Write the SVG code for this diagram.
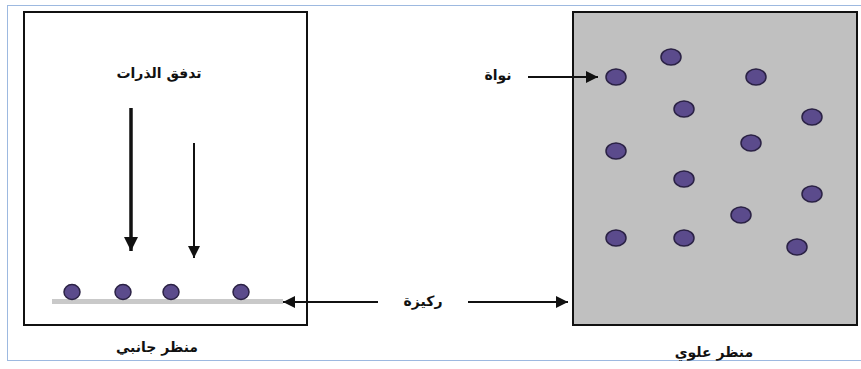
<svg xmlns="http://www.w3.org/2000/svg" width="861" height="369" viewBox="0 0 861 369">
<style>
.lbl{font-family:"DejaVu Sans","Noto Sans",sans-serif;font-weight:bold;font-size:14px;fill:#111;text-anchor:middle}
.dot{fill:#5b4b8c;stroke:#2b2245;stroke-width:1.5}
.ln{stroke:#111;fill:none}
</style>
<defs>
<marker id="ah" viewBox="0 0 10 10" refX="10" refY="5" markerWidth="12" markerHeight="12" markerUnits="userSpaceOnUse" orient="auto">
<path d="M0,0 L10,5 L0,10 Z" fill="#111"/>
</marker>
<marker id="ahb" viewBox="0 0 10 10" refX="10" refY="5" markerWidth="14" markerHeight="14" markerUnits="userSpaceOnUse" orient="auto">
<path d="M0,0 L10,5 L0,10 Z" fill="#111"/>
</marker>
</defs>
<rect x="0" y="0" width="861" height="369" fill="#fff"/>
<rect x="7.5" y="5.5" width="860" height="355" fill="none" stroke="#9db9e0" stroke-width="1"/>
<g id="side-view">
<rect x="24" y="12" width="283" height="313" fill="#fff" stroke="#111" stroke-width="2"/>
<rect x="52" y="299" width="231" height="5" fill="#c9c9c9"/>
<ellipse class="dot" cx="72" cy="292" rx="8" ry="7.5"/>
<ellipse class="dot" cx="123" cy="292" rx="8" ry="7.5"/>
<ellipse class="dot" cx="171" cy="292" rx="8" ry="7.5"/>
<ellipse class="dot" cx="241" cy="292" rx="8" ry="7.5"/>
<text class="lbl" x="159" y="78">تدفق الذرات</text>
<text class="lbl" x="157" y="352">منظر جانبي</text>
</g>
<g id="top-view">
<rect x="573" y="12" width="284" height="313" fill="#c0c0c0" stroke="#111" stroke-width="2"/>
<ellipse class="dot" cx="616" cy="77" rx="10" ry="8"/>
<ellipse class="dot" cx="671" cy="57" rx="10" ry="8"/>
<ellipse class="dot" cx="756" cy="77" rx="10" ry="8"/>
<ellipse class="dot" cx="684" cy="109" rx="10" ry="8"/>
<ellipse class="dot" cx="812" cy="117" rx="10" ry="8"/>
<ellipse class="dot" cx="616" cy="151" rx="10" ry="8"/>
<ellipse class="dot" cx="751" cy="143" rx="10" ry="8"/>
<ellipse class="dot" cx="684" cy="179" rx="10" ry="8"/>
<ellipse class="dot" cx="812" cy="194" rx="10" ry="8"/>
<ellipse class="dot" cx="741" cy="215" rx="10" ry="8"/>
<ellipse class="dot" cx="616" cy="238" rx="10" ry="8"/>
<ellipse class="dot" cx="684" cy="238" rx="10" ry="8"/>
<ellipse class="dot" cx="797" cy="247" rx="10" ry="8"/>
<text class="lbl" x="714" y="357">منظر علوي</text>
</g>
<g id="label-nucleus">
<text class="lbl" x="498" y="80">نواة</text>
</g>
<g id="label-substrate">
<text class="lbl" x="423" y="306">ركيزة</text>
</g>
<g id="connectors">
<line class="ln" x1="131" y1="108" x2="131" y2="251" stroke-width="3.5" marker-end="url(#ahb)"/>
<line class="ln" x1="194" y1="143" x2="194" y2="258" stroke-width="2" marker-end="url(#ah)"/>
<line class="ln" x1="528" y1="77" x2="598" y2="77" stroke-width="2" marker-end="url(#ah)"/>
<line class="ln" x1="378" y1="302" x2="283" y2="302" stroke-width="2" marker-end="url(#ah)"/>
<line class="ln" x1="468" y1="302" x2="568" y2="302" stroke-width="2" marker-end="url(#ah)"/>
</g>
</svg>
